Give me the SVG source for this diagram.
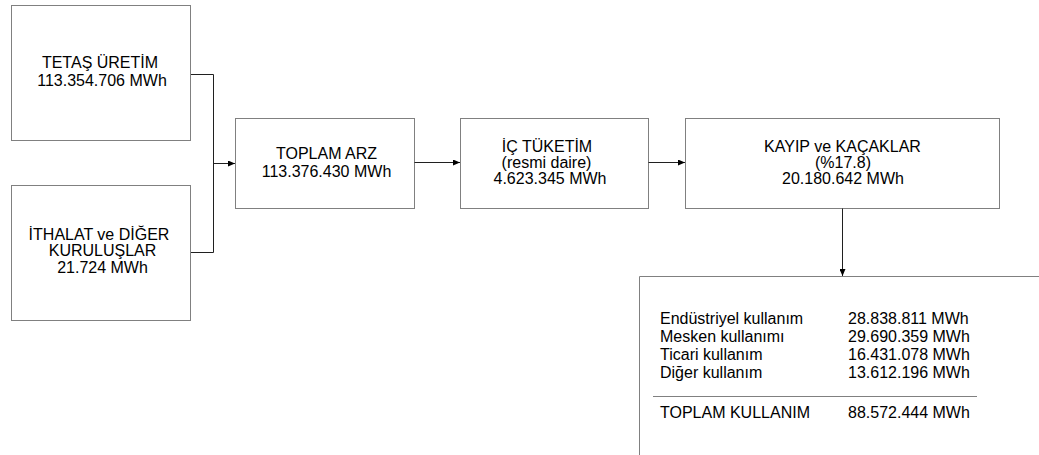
<svg xmlns="http://www.w3.org/2000/svg" width="1039" height="455" viewBox="0 0 1039 455">
<style>
.box{fill:#fff;stroke:#808080;stroke-width:1}
.ln{fill:none;stroke:#202020;stroke-width:1}
text{font-family:"Liberation Sans",Arial,sans-serif;font-size:16px;fill:#000}
.c{text-anchor:middle}
</style>
<defs>
<marker id="ah" markerWidth="7" markerHeight="6" refX="7" refY="3" orient="auto" markerUnits="userSpaceOnUse">
<path d="M0,0 L7,3 L0,6 Z" fill="#000"/>
</marker>
</defs>
<rect width="1039" height="455" fill="#fff"/>
<g id="tetas">
<rect class="box" x="11.5" y="5.5" width="179" height="135"/>
<text class="c" x="100" y="68">TETAŞ ÜRETİM</text>
<text class="c" x="102" y="86">113.354.706 MWh</text>
</g>
<g id="ithalat">
<rect class="box" x="11.5" y="185.5" width="179" height="135"/>
<text class="c" x="99" y="239.5">İTHALAT ve DİĞER</text>
<text class="c" x="102.5" y="256">KURULUŞLAR</text>
<text class="c" x="102.5" y="272.5">21.724 MWh</text>
</g>
<g id="toplam-arz">
<rect class="box" x="235.5" y="118.5" width="179" height="90"/>
<text class="c" x="326.5" y="159">TOPLAM ARZ</text>
<text class="c" x="326.5" y="176.5">113.376.430 MWh</text>
</g>
<g id="ic-tuketim">
<rect class="box" x="460.5" y="118.5" width="188" height="90"/>
<text class="c" x="547" y="151.5">İÇ TÜKETİM</text>
<text class="c" x="546.5" y="167.5">(resmi daire)</text>
<text class="c" x="550" y="183.5">4.623.345 MWh</text>
</g>
<g id="kayip">
<rect class="box" x="685.5" y="118.5" width="314" height="90"/>
<text class="c" x="842.5" y="151.5">KAYIP ve KAÇAKLAR</text>
<text class="c" x="843" y="167.5">(%17.8)</text>
<text class="c" x="843" y="183.5">20.180.642 MWh</text>
</g>
<g id="kullanim">
<path class="box" d="M639.5,460 V276.5 H1045"/>
<text x="660" y="324">Endüstriyel kullanım</text>
<text x="848" y="324">28.838.811 MWh</text>
<text x="660" y="342">Mesken kullanımı</text>
<text x="848" y="342">29.690.359 MWh</text>
<text x="660" y="360">Ticari kullanım</text>
<text x="848" y="360">16.431.078 MWh</text>
<text x="660" y="378">Diğer kullanım</text>
<text x="848" y="378">13.612.196 MWh</text>
<line x1="653" y1="396.5" x2="977" y2="396.5" stroke="#808080" stroke-width="1"/>
<text x="660" y="418">TOPLAM KULLANIM</text>
<text x="848" y="418">88.572.444 MWh</text>
</g>
<g id="connectors">
<path class="ln" d="M191,74.5 H213.5 V252.5 H191"/>
<path class="ln" d="M213.5,163.5 H235" marker-end="url(#ah)"/>
<path class="ln" d="M414.5,162.5 H460" marker-end="url(#ah)"/>
<path class="ln" d="M648.5,162.5 H685" marker-end="url(#ah)"/>
<path class="ln" d="M842.5,208.5 V276" marker-end="url(#ah)"/>
</g>
</svg>
